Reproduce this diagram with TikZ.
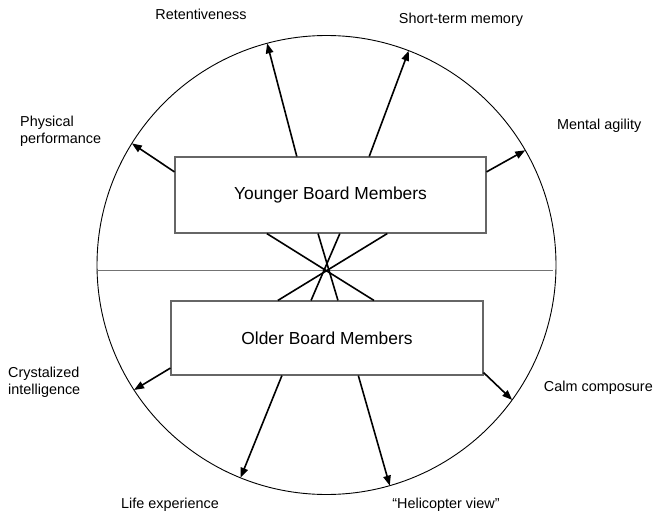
\documentclass[tikz,border=0pt]{standalone}
\usepackage{fontspec}
\setmainfont{Liberation Sans}
\usetikzlibrary{arrows.meta,calc}

\begin{document}
\begin{tikzpicture}[x=1pt,y=-1pt,
  labeltext/.style={font=\fontsize{14.4}{17}\selectfont, inner sep=0pt, align=left},
  grouptext/.style={font=\fontsize{17.4}{20}\selectfont},
  groupbox/.style={draw=black!60, line width=1.1pt, fill=white, inner sep=0pt},
  outarrow/.style={line width=1.6pt, -{Triangle[length=10pt,width=7.5pt]}},
  crossline/.style={line width=1.6pt},
  ring/.style={draw, circle, line width=0.9pt, minimum size=459pt, inner sep=0pt, outer sep=0pt}
]
\useasboundingbox (0,0) rectangle (655,516);

% outer circle and dividing line
\node[ring] (ring) at (326.5,265) {};
\coordinate (divl) at (97,270.5);
\coordinate (divr) at (553,270.5);
\draw[black!55, line width=1.1pt] (divl) -- (divr);

% the two groups
\node[groupbox, grouptext, minimum width=311pt, minimum height=76pt] (young) at (330.5,195) {Younger Board Members};
\node[groupbox, grouptext, minimum width=312pt, minimum height=74pt] (old) at (327,338) {Older Board Members};

% lines crossing between the groups
\draw[crossline] ($(young.south west)!0.296!(young.south east)$) -- ($(old.north west)!0.650!(old.north east)$);
\draw[crossline] ($(young.south west)!0.460!(young.south east)$) -- ($(old.north west)!0.535!(old.north east)$);
\draw[crossline] ($(young.south west)!0.530!(young.south east)$) -- ($(old.north west)!0.449!(old.north east)$);
\draw[crossline] ($(young.south west)!0.682!(young.south east)$) -- ($(old.north west)!0.343!(old.north east)$);

% attributes of the younger members
\draw[outarrow] ($(young.north west)!0.392!(young.north east)$) -- (ring.105.3);
\draw[outarrow] ($(young.north west)!0.624!(young.north east)$) -- (ring.69.1);
\draw[outarrow] ($(young.north west)!0.2!(young.south west)$) -- (ring.148.4);
\draw[outarrow] ($(young.north east)!0.2!(young.south east)$) -- (ring.30.6);

% attributes of the older members
\draw[outarrow] ($(old.north west)!0.9!(old.south west)$) -- (ring.213.6);
\draw[outarrow] ($(old.north east)!0.96!(old.south east)$) -- (ring.-36.4);
\draw[outarrow] ($(old.south west)!0.356!(old.south east)$) -- (ring.248.1);
\draw[outarrow] ($(old.south west)!0.6!(old.south east)$) -- (ring.-74.9);

% labels
\node[labeltext] (ret) at (201,14) {Retentiveness};
\node[labeltext] (stm) at (461,20) {Short-term memory};
\node[labeltext, anchor=west] (phys) at (20,131) {Physical\\performance};
\node[labeltext, anchor=west] (ment) at (557,126) {Mental agility};
\node[labeltext, anchor=west] (cryst) at (8,382) {Crystalized\\intelligence};
\node[labeltext, anchor=east] (calm) at (653,388) {Calm composure};
\node[labeltext] (life) at (170,505) {Life experience};
\node[labeltext] (heli) at (446,505) {``Helicopter view''};
\end{tikzpicture}
\end{document}
